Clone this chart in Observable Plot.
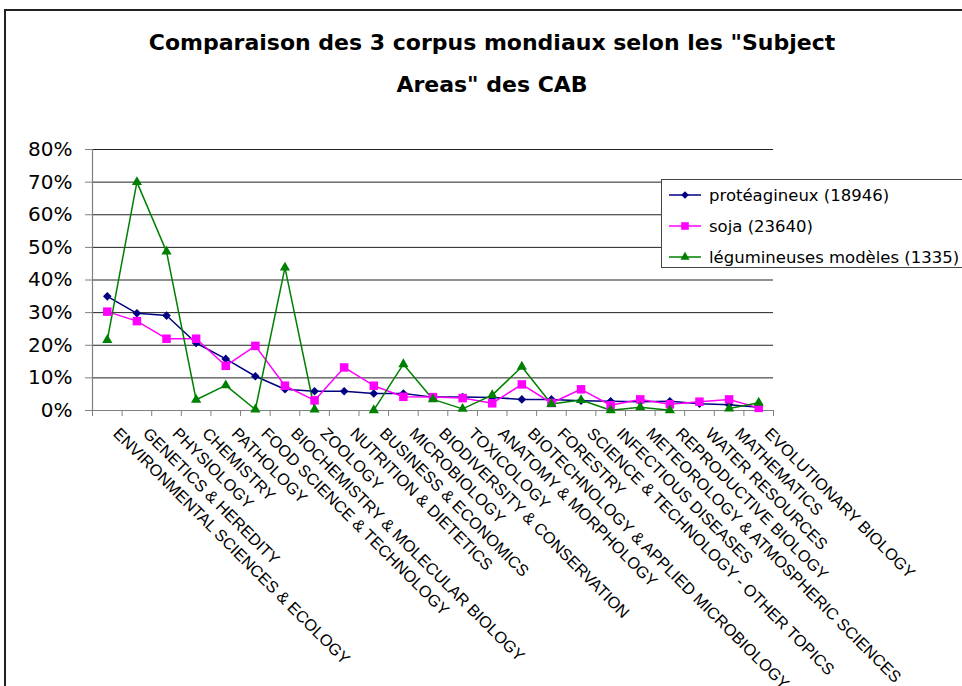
<!DOCTYPE html>
<html>
<head>
<meta charset="utf-8">
<script src="https://cdn.jsdelivr.net/npm/d3@7"></script>
<script src="https://cdn.jsdelivr.net/npm/@observablehq/plot@0.6"></script>
<style>
  body { margin: 0; background: #fff; }
  #chart { position: relative; width: 962px; height: 686px; overflow: hidden; font-family: "DejaVu Sans", sans-serif; background: #fff; }
  #frame { position: absolute; left: 4px; top: 9px; width: 1000px; height: 720px; border-left: 2px solid #222; border-top: 2px solid #222; pointer-events: none; z-index: 5; }
  #title { position: absolute; left: 0; top: 22px; width: 984px; text-align: center; font-weight: bold; font-size: 22px; line-height: 42px; color: #000; }
  #plot { position: absolute; left: 0; top: 130px; }
  #legend { position: absolute; left: 661px; top: 179px; width: 330px; height: 87px; border: 1px solid #444; background: #fff; z-index: 3; }
  .row { position: absolute; left: 0; height: 20px; display: flex; align-items: center; font-size: 16.5px; color: #000; white-space: nowrap; }
  .row svg { margin-left: 6px; margin-right: 7px; }
</style>
</head>
<body>
<div id="chart">
  <div id="title">Comparaison des 3 corpus mondiaux selon les "Subject<br>Areas" des CAB</div>
  <div id="plot"></div>
  <div id="legend"></div>
  <div id="frame"></div>
</div>
<script>
const categories = [
  "ENVIRONMENTAL SCIENCES & ECOLOGY",
  "GENETICS & HEREDITY",
  "PHYSIOLOGY",
  "CHEMISTRY",
  "PATHOLOGY",
  "FOOD SCIENCE & TECHNOLOGY",
  "BIOCHEMISTRY & MOLECULAR BIOLOGY",
  "ZOOLOGY",
  "NUTRITION & DIETETICS",
  "BUSINESS & ECONOMICS",
  "MICROBIOLOGY",
  "BIODIVERSITY & CONSERVATION",
  "TOXICOLOGY",
  "ANATOMY & MORPHOLOGY",
  "BIOTECHNOLOGY & APPLIED MICROBIOLOGY",
  "FORESTRY",
  "SCIENCE & TECHNOLOGY - OTHER TOPICS",
  "INFECTIOUS DISEASES",
  "METEOROLOGY & ATMOSPHERIC SCIENCES",
  "REPRODUCTIVE BIOLOGY",
  "WATER RESOURCES",
  "MATHEMATICS",
  "EVOLUTIONARY BIOLOGY"
];
const seriesNames = ["protéagineux (18946)", "soja (23640)", "légumineuses modèles (1335)"];
const proteagineux = [35.0, 29.8, 29.1, 20.7, 15.8, 10.5, 6.5, 5.9, 5.9, 5.2, 5.2, 4.1, 4.1, 4.0, 3.4, 3.4, 3.0, 2.8, 2.7, 2.8, 2.1, 1.8, 1.0];
const soja = [30.3, 27.4, 22.0, 22.0, 13.7, 19.8, 7.6, 3.1, 13.2, 7.6, 4.2, 4.1, 3.8, 2.2, 8.0, 2.3, 6.5, 1.6, 3.4, 1.9, 2.7, 3.4, 0.8];
const legumineuses = [21.6, 70.0, 48.7, 3.3, 7.7, 0.3, 43.8, 0.3, null, 0.1, 14.2, 3.4, 0.5, 4.7, 13.4, 2.0, 3.2, 0.1, 1.0, 0.1, null, 0.6, 2.4];
const yTicks = [0, 10, 20, 30, 40, 50, 60, 70, 80];
const colors = ["#000080", "#FF00FF", "#008000"];
const symbols = ["diamond2", "square", "triangle"];
const symbolR = [3.9, 4.8, 3.8];

const seriesValues = [proteagineux, soja, legumineuses];
const rows = [];
seriesNames.forEach((s, k) => {
  seriesValues[k].forEach((v, i) => rows.push({series: s, x: i + 0.5, value: v}));
});

const plot = Plot.plot({
  width: 962,
  height: 556,
  marginLeft: 92,
  marginRight: 189,
  marginTop: 19,
  marginBottom: 276,
  style: {fontFamily: "DejaVu Sans, sans-serif", background: "transparent", overflow: "visible", color: "#000"},
  x: {domain: [0, categories.length], axis: null},
  y: {domain: [0, 80], axis: null},
  color: {domain: seriesNames, range: colors},
  symbol: {domain: seriesNames, range: symbols},
  marks: [
    Plot.gridY(yTicks, {stroke: "#222", strokeOpacity: 1, strokeWidth: 1}),
    Plot.ruleX([0], {stroke: "#808080", strokeWidth: 1.2}),
    Plot.ruleY([0], {stroke: "#808080", strokeWidth: 1.2}),
    Plot.axisY(yTicks, {tickSize: 7, tickPadding: 13, tickFormat: d => d + "%", fontSize: 20, stroke: "#808080", fill: "#000", label: null}),
    Plot.axisX(d3.range(0, categories.length + 1), {tickSize: 6, stroke: "#808080", fill: "none", tickFormat: () => "", label: null}),
    Plot.text(categories, {
      x: (d, i) => i + 0.5, text: d => d, frameAnchor: "bottom",
      rotate: 45, textAnchor: "start", lineAnchor: "bottom",
      dy: 24, dx: 5, fontSize: 16.3, fill: "#000",
      fontFamily: "Liberation Sans, Arial, sans-serif"
    }),
    Plot.lineY(rows, {x: "x", y: "value", z: "series", stroke: "series", strokeWidth: 1.5}),
    ...seriesNames.map((s, k) => Plot.dot(rows.filter(d => d.series === s && d.value != null), {
      x: "x", y: "value", fill: "series", symbol: "series", r: symbolR[k], stroke: "none"
    }))
  ]
});
document.getElementById("plot").appendChild(plot);

// Legend
const legend = d3.select("#legend");
const symbolTypes = [d3.symbolDiamond2, d3.symbolSquare, d3.symbolTriangle];
seriesNames.forEach((s, k) => {
  const row = legend.append("div").attr("class", "row").style("top", (5 + k * 31) + "px");
  const svg = row.append("svg").attr("width", 34).attr("height", 20);
  svg.append("line").attr("x1", 1).attr("x2", 33).attr("y1", 10).attr("y2", 10)
    .attr("stroke", colors[k]).attr("stroke-width", 1.5);
  svg.append("path").attr("transform", "translate(17,10)")
    .attr("d", d3.symbol(symbolTypes[k], Math.PI * symbolR[k] * symbolR[k] * 0.8)())
    .attr("fill", colors[k]);
  row.append("span").text(s);
});
</script>
</body>
</html>
